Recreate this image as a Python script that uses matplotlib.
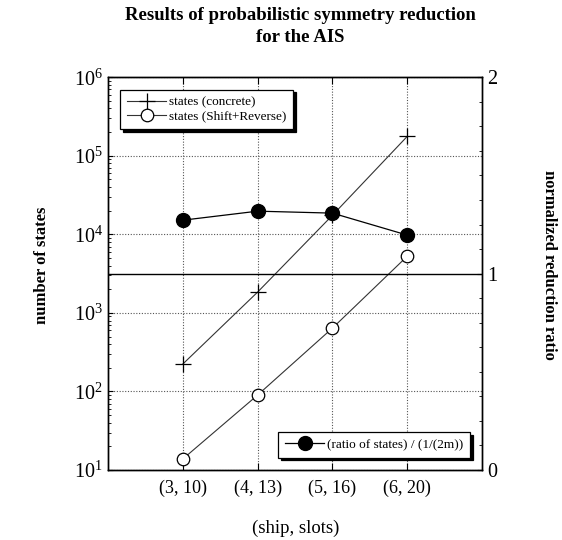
import matplotlib
matplotlib.use("Agg")
import matplotlib.pyplot as plt
from matplotlib.ticker import MultipleLocator, LogLocator, NullFormatter

plt.rcParams['font.family'] = ['Liberation Serif', 'DejaVu Serif']

# data
configs = ["(3, 10)", "(4, 13)", "(5, 16)", "(6, 20)"]
states_concrete = [223, 1840, 17500, 177000]
states_shift_reverse = [13.8, 90, 641, 5280]
norm_ratio = [1.272, 1.318, 1.308, 1.196]

xs = list(range(len(configs)))

fig = plt.figure(figsize=(5.62, 5.4), dpi=100)
ax = fig.add_axes([0.192, 0.1296, 0.666, 0.7274])

ax.plot(xs, states_concrete, color='#333333', lw=0.8, marker='+', ms=11,
        mew=0.9, mec='black', label='states (concrete)')
ax.plot(xs, states_shift_reverse, color='#333333', lw=0.8, marker='o', ms=9,
        mfc='white', mec='black', mew=0.9, label='states (Shift+Reverse)')
ax.set_yscale('log')
ax.set_ylim(10, 1e6)
ax.set_xlim(-1, 4)
ax.set_xticks(xs)
ax.set_xticklabels(configs, fontsize=13)
ax.yaxis.set_major_locator(LogLocator(base=10, numticks=10))
ax.yaxis.set_minor_locator(LogLocator(base=10, subs=range(2, 10), numticks=10))
ax.yaxis.set_minor_formatter(NullFormatter())
ax.tick_params(axis='y', which='both', direction='in', labelsize=14.5, right=False)
ax.tick_params(axis='x', direction='in', length=5, top=True, pad=7)
ax.grid(True, which='major', color='#555555', ls=(0, (1, 1.5)), lw=0.8)

# titles and axis labels placed in figure pixels like the reference
fig.text(300 / 562, 1 - 15 / 540, 'Results of probabilistic symmetry reduction',
         ha='center', va='center', fontsize=13.5, fontweight='bold')
fig.text(300 / 562, 1 - 37 / 540, 'for the AIS',
         ha='center', va='center', fontsize=13.5, fontweight='bold')
fig.text(296 / 562, 1 - 528 / 540, '(ship, slots)', ha='center', va='center',
         fontsize=13.5)
fig.text(42 / 562, 1 - 265 / 540, 'number of states', ha='center', va='center',
         rotation=90, fontsize=12, fontweight='bold')
fig.text(549 / 562, 1 - 265 / 540, 'normalized reduction ratio', ha='center',
         va='center', rotation=270, fontsize=12, fontweight='bold')

leg1 = ax.legend(loc='upper left', bbox_to_anchor=(0.015, 0.985), fontsize=9.5,
                 frameon=True, fancybox=False, edgecolor='black',
                 framealpha=1, borderpad=0.5, labelspacing=0.15,
                 handlelength=3.0, handletextpad=0.2,
                 shadow={'color': 'black', 'alpha': 1})
leg1.get_frame().set_linewidth(0.9)

ax2 = ax.twinx()
ax2.plot(xs, norm_ratio, color='black', lw=0.9, marker='o', ms=10,
         mfc='black', mec='black', label='(ratio of states) / (1/(2m))')
ax2.axhline(1, color='black', lw=1.0)
ax2.set_ylim(0, 2)
ax2.yaxis.set_major_locator(MultipleLocator(1))
ax2.yaxis.set_minor_locator(MultipleLocator(0.125))
ax2.tick_params(axis='y', which='both', direction='in', labelsize=14.5)

leg2 = ax2.legend(loc='lower right', bbox_to_anchor=(0.985, 0.015), fontsize=9.5,
                  frameon=True, fancybox=False, edgecolor='black',
                  framealpha=1, borderpad=0.5, handlelength=3.0,
                  handletextpad=0.2, shadow={'color': 'black', 'alpha': 1})
leg2.get_frame().set_linewidth(0.9)

for a in (ax, ax2):
    for s in a.spines.values():
        s.set_linewidth(1.0)

fig.savefig('out.png', dpi=100)
